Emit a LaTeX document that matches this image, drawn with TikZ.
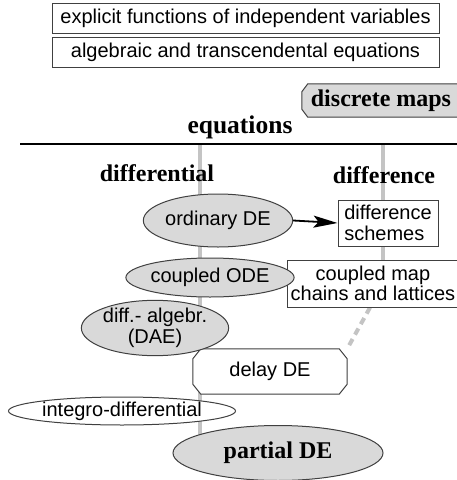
\documentclass[tikz,border=0pt]{standalone}
\usepackage{fontspec}
\setmainfont{Liberation Serif}
\setsansfont{Liberation Sans}
\usetikzlibrary{shapes.geometric,arrows.meta,calc,backgrounds}
\definecolor{edge}{HTML}{404040}
\definecolor{fillg}{HTML}{D9D9D9}
\definecolor{railg}{HTML}{C4C4C4}
\newcommand\chamfpoly[4]{% node, xcut, ycut, fill (unitless)
  \path[draw=edge, line width=1pt, fill=#4]
    ($(#1.north west)+(#2,0)$) -- ($(#1.north east)+(-#2,0)$) -- ($(#1.north east)+(0,#3)$)
    -- ($(#1.south east)+(0,-#3)$) -- ($(#1.south east)+(-#2,0)$) -- ($(#1.south west)+(#2,0)$)
    -- ($(#1.south west)+(0,-#3)$) -- ($(#1.north west)+(0,#3)$) -- cycle;}
\tikzset{
  sans/.style={font=\sffamily\fontsize{20}{20.5}\selectfont},
  head/.style={font=\rmfamily\bfseries\fontsize{24}{26}\selectfont},
  topbox/.style={sans, draw=edge, line width=1pt, fill=white, minimum width=387pt, minimum height=30pt, inner sep=0pt},
  greyell/.style={sans, ellipse, draw=edge, line width=1pt, fill=fillg, inner sep=0pt, align=center},
  whiteell/.style={sans, ellipse, draw=edge, line width=1pt, fill=white, inner sep=0pt},
  plainbox/.style={sans, draw=edge, line width=1pt, fill=white, inner sep=0pt},
  rail/.style={draw=railg, line width=4pt},
  dashrail/.style={draw=railg, line width=4pt, dash pattern=on 7pt off 5pt},
}
\begin{document}
\begin{tikzpicture}[x=1pt,y=-1pt]
\useasboundingbox (0,0) rectangle (456,480);

\coordinate (hl) at (20,144);
\coordinate (hr) at (460,144);
\coordinate (ltop) at (200,144);
\coordinate (rtop) at (383,144);

% nodes (main layer)
\node[topbox] (expl) at (245.5,18) {explicit functions of independent variables};
\node[topbox] (alg) at (245.5,52) {algebraic and transcendental equations};
\node[head, minimum width=168pt, minimum height=33pt, inner sep=0pt] (dmaps) at (386,100.5) {\hspace*{-10pt}discrete maps};
\node[head, font=\rmfamily\bfseries\fontsize{25.5}{27}\selectfont] (eqs) at (240,127) {equations};
\node[head] (diffl) at (157,173) {differential};
\node[head] (diffce) at (384,175) {difference};

\node[plainbox, minimum width=100pt, minimum height=46pt, align=left] (dsch) at (388,223) {difference\\schemes};
\node[plainbox, minimum width=172pt, minimum height=47pt, align=center] (cmap) at (373,283.5) {coupled map\\chains and lattices};
\node[sans, minimum width=154pt, minimum height=45pt, inner sep=0pt] (delay) at (270,371.5) {delay DE};

\node[greyell, minimum width=138pt, minimum height=53pt] (ode) at (218,220.5) {ordinary DE};
\node[greyell, minimum width=134pt, minimum height=39pt] (code) at (210,277.5) {coupled ODE};
\node[greyell, minimum width=131pt, minimum height=52pt] (dae) at (155,328) {diff.- algebr.\\(DAE)};
\node[whiteell, minimum width=227pt, minimum height=28pt] (integ) at (122,411) {integro-differential};
\node[greyell, head, minimum width=210pt, minimum height=55pt] (pde) at (278,453) {partial DE};

\draw[line width=1.8pt, -{Stealth[length=24pt,width=12pt,inset=5pt]}] (ode.east) -- (dsch.west);

\begin{scope}[on background layer]
  \fill[white] (0,0) rectangle (456,480);
  \path[rail] (ltop) -- (ltop |- pde.center);
  \path[rail] (rtop) -- (rtop |- cmap.center);
  \path[dashrail] (cmap.south -| 370,0) -- (delay.north east);
  \draw[line width=2pt, black] (hl) -- (hr);
  \chamfpoly{delay}{8}{10}{white}
  \chamfpoly{dmaps}{6}{8}{fillg}
\end{scope}
\end{tikzpicture}
\end{document}
